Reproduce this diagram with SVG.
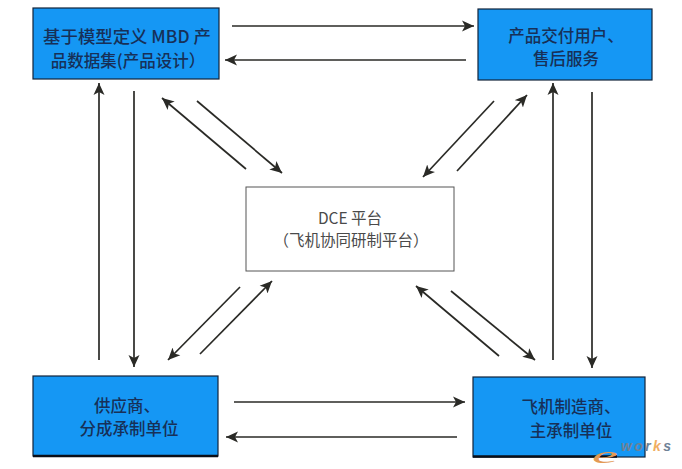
<svg xmlns="http://www.w3.org/2000/svg" width="682" height="469" viewBox="0 0 682 469">
<style>
.n{fill:#1597f4;stroke:#12233a;stroke-width:1.2}
.b{stroke:#0a0f18;stroke-width:2.4;fill:none}
.t{font-family:"Noto Sans CJK SC","Liberation Serif",serif;font-weight:500;fill:#173058;text-anchor:middle;font-size:16.5px}
.m{font-size:17.4px}
.c{fill:#4a4a4a;font-size:15.5px;font-weight:400}
.l{stroke:#2a2a26;stroke-width:1.7;fill:none}
.a{marker-end:url(#ah)}
</style>
<defs><marker id="ah" markerUnits="userSpaceOnUse" markerWidth="13" markerHeight="12" refX="12" refY="6" orient="auto" viewBox="0 0 13 12"><path d="M0,0.5 L12,6 L0,11.5 L3,6 Z" fill="#2a2a26"/></marker></defs>
<rect width="682" height="469" fill="#fff"/>
<g id="connectors">
<path class="l a" d="M232,26 L474,26"/>
<path class="l a" d="M466,60 L225,60"/>
<path class="l a" d="M99,360 L99,83"/>
<path class="l a" d="M134,91 L134,367"/>
<path class="l a" d="M246,169 L162,98"/>
<path class="l a" d="M197,101 L282,173"/>
<path class="l a" d="M494,101 L423,177"/>
<path class="l a" d="M457,171 L527,95"/>
<path class="l a" d="M553,360 L553,83"/>
<path class="l a" d="M592,92 L592,368"/>
<path class="l a" d="M240,287 L168,360"/>
<path class="l a" d="M200,354 L272,281"/>
<path class="l a" d="M499,356 L416,286"/>
<path class="l a" d="M451,291 L535,360"/>
<path class="l a" d="M234,402 L465,402"/>
<path class="l a" d="M457,437 L226,437"/>
</g>
<g id="node-mbd"><rect class="n" x="33" y="8" width="186" height="71"/>
<text class="t m" x="127" y="43">基于模型定义 MBD 产</text><text class="t" x="128" y="67">品数据集(产品设计）</text></g>
<g id="node-delivery"><rect class="n" x="478" y="9" width="174" height="71"/>
<text class="t" x="566" y="42">产品交付用户、</text><text class="t" x="566" y="65">售后服务</text></g>
<g id="node-dce"><rect x="246" y="187" width="208" height="84" fill="#fff" stroke="#555" stroke-width="1"/>
<text class="t c" x="350" y="224">DCE 平台</text><text class="t c" x="351" y="246">（飞机协同研制平台）</text></g>
<g id="node-supplier"><rect class="n" x="33" y="376" width="185" height="80"/><path class="b" d="M33,456 H218"/>
<text class="t" x="127" y="412">供应商、</text><text class="t" x="129" y="435">分成承制单位</text></g>
<g id="node-maker"><rect class="n" x="473" y="377" width="172" height="80"/><path class="b" d="M473,456.5 H617"/>
<text class="t" x="571" y="413">飞机制造商、</text><text class="t" x="571" y="437">主承制单位</text></g>
<g id="watermark"><text x="592" y="463" font-family="Liberation Serif,serif" font-style="italic" font-size="24" textLength="26" lengthAdjust="spacingAndGlyphs" fill="#e39a55">e</text><text x="621" y="451" font-family="Liberation Sans,sans-serif" font-style="italic" font-weight="bold" font-size="14" textLength="50" fill="#6f8296">wor<tspan fill="#f0ae62">k</tspan>s</text></g>
</svg>
